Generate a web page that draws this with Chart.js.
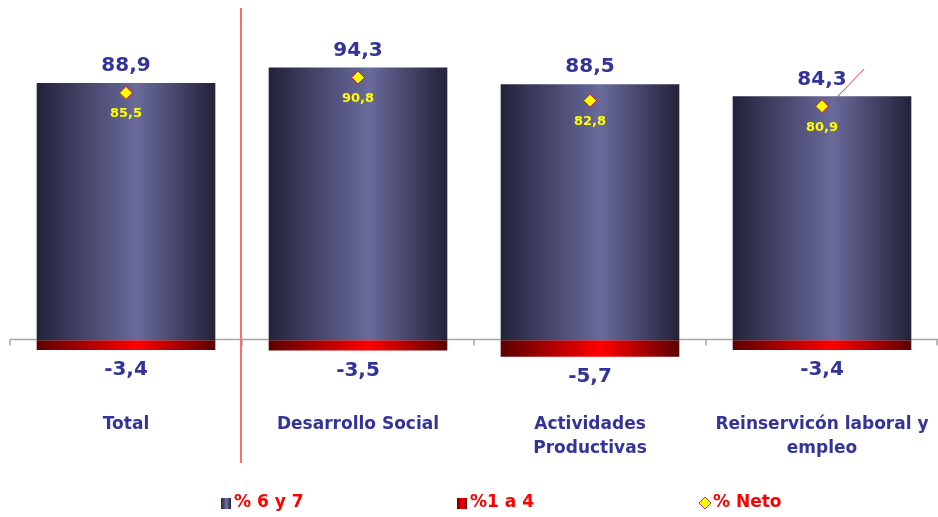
<!DOCTYPE html>
<html>
<head>
<meta charset="utf-8">
<script src="https://cdn.jsdelivr.net/npm/chart.js@4/dist/chart.umd.min.js"></script>
<style>
  html, body { margin: 0; padding: 0; background: #fff; overflow: hidden; }
  canvas { display: block; }
</style>
</head>
<body>
<canvas id="chart" width="938" height="517"></canvas>
<script>
const categories = [["Total"], ["Desarrollo Social"], ["Actividades", "Productivas"], ["Reinservicón laboral y", "empleo"]];
const alto = [88.9, 94.3, 88.5, 84.3];      // % 6 y 7
const bajo = [-3.4, -3.5, -5.7, -3.4];      // %1 a 4
const neto = [85.5, 90.8, 82.8, 80.9];      // % Neto
const legendLabels = ["% 6 y 7", "%1 a 4", "% Neto"];

const FONT = "'DejaVu Sans', Verdana, sans-serif";
const BLUE = "#333399";

function fmt(v) { return v.toFixed(1).replace(".", ","); }

function barGradient(ctx, x0, x1, dark, light) {
  const g = ctx.createLinearGradient(x0, 0, x1, 0);
  g.addColorStop(0, dark);
  g.addColorStop(0.56, light);
  g.addColorStop(1, dark);
  return g;
}

function bandEdges(chart, i) {
  const xs = chart.scales.x;
  const band = xs.width / categories.length;
  const cx = xs.getPixelForValue(i);
  const half = band * 0.77 / 2;
  return [cx - half, cx + half];
}

const decor = {
  id: "decor",
  beforeDatasetsDraw(chart) {
    const { ctx, scales: { x, y } } = chart;
    const y0 = Math.round(y.getPixelForValue(0)) - 0.5;
    const band = x.width / categories.length;
    ctx.save();
    ctx.strokeStyle = "#a6a6a6";
    ctx.lineWidth = 1.5;
    ctx.beginPath();
    ctx.moveTo(x.left, y0);
    ctx.lineTo(x.right, y0);
    for (let i = 0; i <= categories.length; i++) {
      const bx = Math.min(x.left + i * band, x.right - 1);
      ctx.moveTo(bx, y0);
      ctx.lineTo(bx, y0 + 6);
    }
    ctx.stroke();
    ctx.restore();
  },
  afterDatasetsDraw(chart) {
    const { ctx, scales: { x, y } } = chart;
    const band = x.width / categories.length;
    ctx.save();
    // red divider
    ctx.strokeStyle = "#ff6b6b";
    ctx.lineWidth = 2;
    ctx.beginPath();
    ctx.moveTo(x.left + band - 1, 8);
    ctx.lineTo(x.left + band - 1, 463);
    ctx.stroke();

    // stray red line near last point
    const px = x.getPixelForValue(3), py = y.getPixelForValue(neto[3]);
    ctx.strokeStyle = "#ff3030";
    ctx.lineWidth = 1;
    ctx.beginPath();
    ctx.moveTo(px + 10, py - 4);
    ctx.lineTo(px + 42, py - 37);
    ctx.stroke();

    ctx.textAlign = "center";
    categories.forEach((lines, i) => {
      const cx = x.getPixelForValue(i);
      // bar values
      ctx.fillStyle = BLUE;
      ctx.font = "bold 20px " + FONT;
      ctx.textBaseline = "middle";
      ctx.fillText(fmt(alto[i]), cx, y.getPixelForValue(alto[i]) - 17);
      ctx.fillText(fmt(bajo[i]), cx, y.getPixelForValue(bajo[i]) + 20);
      // neto values
      ctx.fillStyle = "#ffff00";
      ctx.font = "bold 13px " + FONT;
      ctx.fillText(fmt(neto[i]), cx, y.getPixelForValue(neto[i]) + 21);
      // category labels
      ctx.fillStyle = BLUE;
      ctx.font = "bold 17px " + FONT;
      lines.forEach((t, k) => ctx.fillText(t, cx, 425 + k * 24));
    });

    // legend
    const ly = 503;
    const items = [{ x: 221 }, { x: 457 }, { x: 700 }];
    ctx.textAlign = "left";
    ctx.font = "bold 17px " + FONT;
    items.forEach((it, k) => {
      if (k === 0) {
        ctx.fillStyle = barGradient(ctx, it.x, it.x + 10, "#23233a", "#7070a4");
        ctx.fillRect(it.x, ly - 5, 10, 11);
      } else if (k === 1) {
        ctx.fillStyle = barGradient(ctx, it.x, it.x + 10, "#6a0000", "#ff0000");
        ctx.fillRect(it.x, ly - 5, 10, 11);
      } else {
        ctx.fillStyle = "#ffff00";
        ctx.strokeStyle = "#cc3366";
        ctx.lineWidth = 1;
        ctx.beginPath();
        ctx.moveTo(it.x + 5, ly - 6);
        ctx.lineTo(it.x + 11, ly);
        ctx.lineTo(it.x + 5, ly + 6);
        ctx.lineTo(it.x - 1, ly);
        ctx.closePath();
        ctx.fill();
        ctx.stroke();
      }
      ctx.fillStyle = "#ff0000";
      ctx.textBaseline = "middle";
      ctx.fillText(legendLabels[k], it.x + 13, ly);
    });
    ctx.restore();
  }
};

new Chart(document.getElementById("chart"), {
  data: {
    labels: categories.map(c => c.join(" ")),
    datasets: [
      {
        type: "line",
        label: legendLabels[2],
        data: neto,
        showLine: false,
        pointStyle: "rectRot",
        pointRadius: 6.5,
        pointHoverRadius: 6.5,
        pointBackgroundColor: "#ffff00",
        pointBorderColor: "#d0103a",
        pointBorderWidth: 1,
        order: 0
      },
      {
        type: "bar",
        label: legendLabels[0],
        data: alto,
        order: 1,
        backgroundColor(c) {
          if (!c.chart.chartArea) return "#555580";
          const [a, b] = bandEdges(c.chart, c.dataIndex);
          return barGradient(c.chart.ctx, a, b, "#22223a", "#6a6a9c");
        }
      },
      {
        type: "bar",
        label: legendLabels[1],
        data: bajo,
        order: 1,
        backgroundColor(c) {
          if (!c.chart.chartArea) return "#cc0000";
          const [a, b] = bandEdges(c.chart, c.dataIndex);
          return barGradient(c.chart.ctx, a, b, "#5c0000", "#ff0000");
        }
      }
    ]
  },
  options: {
    responsive: false,
    animation: false,
    layout: { autoPadding: false, padding: { left: 10, right: 0, top: 22, bottom: 61 } },
    datasets: { bar: { grouped: false, categoryPercentage: 1, barPercentage: 0.77, borderWidth: 0 } },
    plugins: { legend: { display: false }, tooltip: { enabled: false } },
    scales: {
      x: { display: false },
      y: { display: false, min: -40, max: 110 }
    }
  },
  plugins: [decor]
});
</script>
</body>
</html>
